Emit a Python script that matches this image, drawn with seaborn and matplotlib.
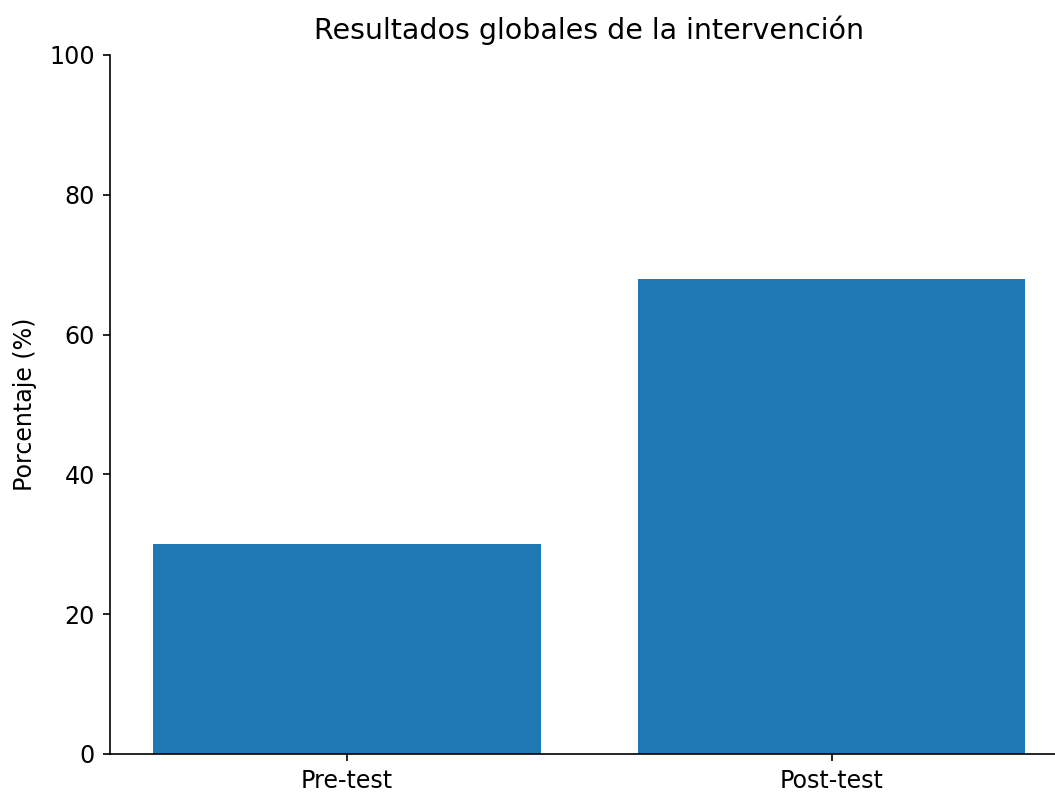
import pandas as pd
import matplotlib
matplotlib.use("Agg")
import matplotlib.pyplot as plt
import seaborn as sns

# data
fases = ["Pre-test", "Post-test"]
porcentajes = [30, 68]

df = pd.DataFrame({"fase": fases, "porcentaje": porcentajes})

plt.rcParams["font.size"] = 11.4
plt.rcParams["axes.titlesize"] = 13.7
plt.rcParams["axes.labelsize"] = 11.4

fig = plt.figure(figsize=(1055 / 150, 792 / 150), dpi=150)
ax = fig.add_axes([0.1039, 0.048, 0.9093, 0.8826])

sns.barplot(data=df, x="fase", y="porcentaje", color="#1f77b4",
            saturation=1, width=0.8, ax=ax)

ax.set_xlim(-0.49, 1.49)
ax.set_ylim(0, 100)
ax.set_xlabel("")
ax.set_ylabel("Porcentaje (%)", labelpad=6)
ax.set_title("Resultados globales de la intervención", pad=7.5)
ax.tick_params(labelsize=11.4)
sns.despine(ax=ax)

fig.savefig("out.png", dpi=150)
